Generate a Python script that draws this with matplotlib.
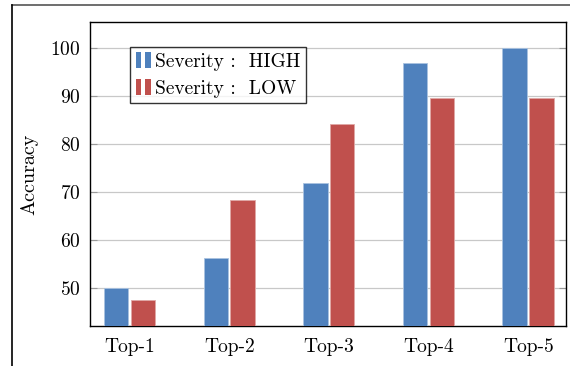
import matplotlib
matplotlib.use("Agg")
import matplotlib.pyplot as plt
import numpy as np
from matplotlib.lines import Line2D
from matplotlib.legend_handler import HandlerBase
from matplotlib.patches import Rectangle

plt.rcParams['font.family'] = 'serif'
plt.rcParams['font.serif'] = ['cmr10', 'DejaVu Serif']
plt.rcParams['mathtext.fontset'] = 'cm'
plt.rcParams['axes.formatter.use_mathtext'] = True

categories = ["Top-1", "Top-2", "Top-3", "Top-4", "Top-5"]
high = [50.0, 56.3, 71.9, 96.9, 100.0]
low = [47.5, 68.4, 84.2, 89.6, 89.6]
series_labels = ["Severity :  HIGH", "Severity :  LOW"]
blue = "#4f81bd"
red = "#c0504d"

fig = plt.figure(figsize=(5.7, 3.66), dpi=100)
W, H = 570, 366
ax = fig.add_axes([90 / W, 1 - 326 / H, (566 - 90) / W, (326 - 22) / H])

x = np.arange(len(categories))
w = 0.245
ax.bar(x - 0.137, high, w, color=blue, edgecolor="#a9c2e0", linewidth=0.6, zorder=3)
ax.bar(x + 0.133, low, w, color=red, edgecolor="#e0a8a6", linewidth=0.6, zorder=3)

ax.set_ylim(42.1, 105.4)
ax.set_xlim(-0.4, 4.38)
ax.set_yticks([50, 60, 70, 80, 90, 100])
ax.set_xticks(x)
ax.set_xticklabels(categories)
ax.yaxis.grid(True, color="#c8c8c8", linewidth=0.9, zorder=0)
ax.set_axisbelow(True)
ax.tick_params(axis='y', which='both', direction='in', length=5, color="#999999",
               right=True, left=True, labelsize=14, pad=7)
ax.tick_params(axis='x', length=0, labelsize=14, pad=9)
for s in ax.spines.values():
    s.set_linewidth(1.0)
ax.set_ylabel("Accuracy", fontsize=14.5, labelpad=8)


class BarPairHandler(HandlerBase):
    def __init__(self, color):
        super().__init__()
        self.color = color

    def create_artists(self, legend, orig_handle, xdescent, ydescent, width, height, fontsize, trans):
        bw = width * 0.33
        r1 = Rectangle((-xdescent + width * 0.0, -ydescent - height * 0.1), bw, height * 1.15,
                       facecolor=self.color, transform=trans)
        r2 = Rectangle((-xdescent + width * 0.62, -ydescent - height * 0.1), bw, height * 1.15,
                       facecolor=self.color, transform=trans)
        return [r1, r2]


h1 = Rectangle((0, 0), 1, 1)
h2 = Rectangle((0, 0), 1, 1, label="b")
leg = ax.legend([h1, h2], series_labels, loc='upper left', bbox_to_anchor=(0.084, 0.918),
                fontsize=14, frameon=True, fancybox=False, edgecolor='black',
                handler_map={h1: BarPairHandler(blue), h2: BarPairHandler(red)},
                handlelength=0.8, handletextpad=0.2, borderpad=0.3, labelspacing=0.45,
                borderaxespad=0)
leg.get_frame().set_linewidth(1.0)

# outer frame (partially visible)
fig.add_artist(Line2D([12 / W, 1.0], [1 - 5 / H, 1 - 5 / H], color="#555555", linewidth=1.2,
                      transform=fig.transFigure))
fig.add_artist(Line2D([12 / W, 12 / W], [1 - 5 / H, 0], color="black", linewidth=1.2,
                      transform=fig.transFigure))

fig.savefig("out.png", dpi=100)
